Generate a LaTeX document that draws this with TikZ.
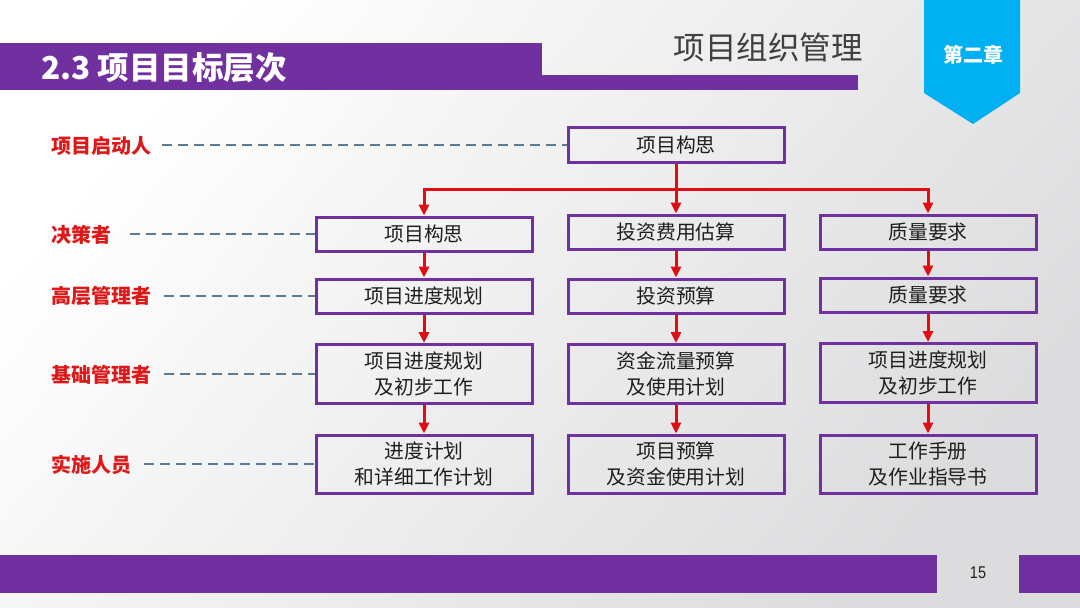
\documentclass[tikz,border=0pt]{standalone}
\usepackage{fontspec}
\setmainfont{Noto Sans CJK SC}
\newfontfamily\numfont{Liberation Sans}
\usetikzlibrary{arrows.meta}
\definecolor{pptpurple}{RGB}{112,48,160}
\definecolor{badgeblue}{RGB}{0,176,240}
\definecolor{labred}{RGB}{222,24,24}
\definecolor{dashgray}{RGB}{92,122,148}
\definecolor{arrowred}{RGB}{226,12,18}
\definecolor{bggray}{RGB}{220,220,222}
\definecolor{txtdark}{RGB}{30,30,30}
\tikzset{
  boxnode/.style={draw=pptpurple, line width=3pt, minimum width=216pt, text=txtdark,
    align=center, inner sep=2pt, font=\fontsize{19.8}{26}\selectfont},
  rolelabel/.style={anchor=west, inner sep=0pt, text=labred, font=\fontsize{20}{22}\selectfont\bfseries},
  dashline/.style={draw=dashgray, line width=2pt, dash pattern=on 10pt off 6pt},
  redarrow/.style={draw=arrowred, line width=3pt, -{Triangle[length=11pt,width=10pt]}},
  redline/.style={draw=arrowred, line width=3pt},
}
\begin{document}
\begin{tikzpicture}[x=1pt,y=-1pt]
\useasboundingbox (0,0) rectangle (1080,608);
% background
\shade[shading=axis, top color=white, bottom color=bggray, shading angle=50] (0,0) rectangle (1080,608);
% header
\fill[pptpurple] (0,43) rectangle (542,90);
\fill[pptpurple] (542,75) rectangle (858,90);
\node[anchor=west, inner sep=0pt, text=white, font=\fontsize{31.5}{34}\selectfont\bfseries] (title) at (41,68) {2.3 项目目标层次};
\node[inner sep=0pt, text=txtdark!85, font=\fontsize{31.5}{34}\selectfont] (chap) at (768,47) {项目组织管理};
\fill[badgeblue] (924,0) -- (1020,0) -- (1020,93) -- (973,124) -- (924,93) -- cycle;
\node[inner sep=0pt, text=white, font=\fontsize{20}{22}\selectfont\bfseries] (badge) at (973,55) {第二章};
% footer
\fill[pptpurple] (0,555) rectangle (937,593);
\fill[pptpurple] (1019,555) rectangle (1080,593);
\node[inner sep=0pt, text=txtdark, font=\numfont\fontsize{17}{20}\selectfont, xscale=0.85] (pnum) at (978,573) {15};
% role labels
\node[rolelabel] (l1) at (51,146) {项目启动人};
\node[rolelabel] (l2) at (51,235) {决策者};
\node[rolelabel] (l3) at (51,296) {高层管理者};
\node[rolelabel] (l4) at (51,375) {基础管理者};
\node[rolelabel] (l5) at (51,465) {实施人员};
% boxes
\node[boxnode, minimum height=35pt] (top) at (676,145) {项目构思};
\node[boxnode, minimum height=34pt] (b21) at (424,234) {项目构思};
\node[boxnode, minimum height=34pt] (b22) at (676,232) {投资费用估算};
\node[boxnode, minimum height=34pt] (b23) at (928,232) {质量要求};
\node[boxnode, minimum height=34pt] (b31) at (424,296) {项目进度规划};
\node[boxnode, minimum height=34pt] (b32) at (676,296) {投资预算};
\node[boxnode, minimum height=34pt] (b33) at (928,295) {质量要求};
\node[boxnode, minimum height=59pt] (b41) at (424,374) {项目进度规划\\及初步工作};
\node[boxnode, minimum height=59pt] (b42) at (676,374) {资金流量预算\\及使用计划};
\node[boxnode, minimum height=59pt] (b43) at (928,373) {项目进度规划\\及初步工作};
\node[boxnode, minimum height=58pt] (b51) at (424,464) {进度计划\\和详细工作计划};
\node[boxnode, minimum height=58pt] (b52) at (676,464) {项目预算\\及资金使用计划};
\node[boxnode, minimum height=58pt] (b53) at (928,464) {工作手册\\及作业指导书};
% dashed leaders
\draw[dashline] ([xshift=11pt]l1.east |- top.west) -- (top.west);
\draw[dashline] ([xshift=19pt]l2.east |- b21.west) -- (b21.west);
\draw[dashline] ([xshift=13pt]l3.east |- b31.west) -- (b31.west);
\draw[dashline] ([xshift=13pt]l4.east |- b41.west) -- (b41.west);
\draw[dashline] ([xshift=13pt]l5.east |- b51.west) -- (b51.west);
% red connectors
\coordinate (split) at (676,189);
\draw[redline] (top.south) -- (split);
\draw[redarrow] (split) -| (b21.north);
\draw[redarrow] (split) -- (b22.north);
\draw[redarrow] (split) -| (b23.north);
\draw[redarrow] (b21.south) -- (b31.north);
\draw[redarrow] (b22.south) -- (b32.north);
\draw[redarrow] (b23.south) -- (b33.north);
\draw[redarrow] (b31.south) -- (b41.north);
\draw[redarrow] (b32.south) -- (b42.north);
\draw[redarrow] (b33.south) -- (b43.north);
\draw[redarrow] (b41.south) -- (b51.north);
\draw[redarrow] (b42.south) -- (b52.north);
\draw[redarrow] (b43.south) -- (b53.north);
\end{tikzpicture}
\end{document}
